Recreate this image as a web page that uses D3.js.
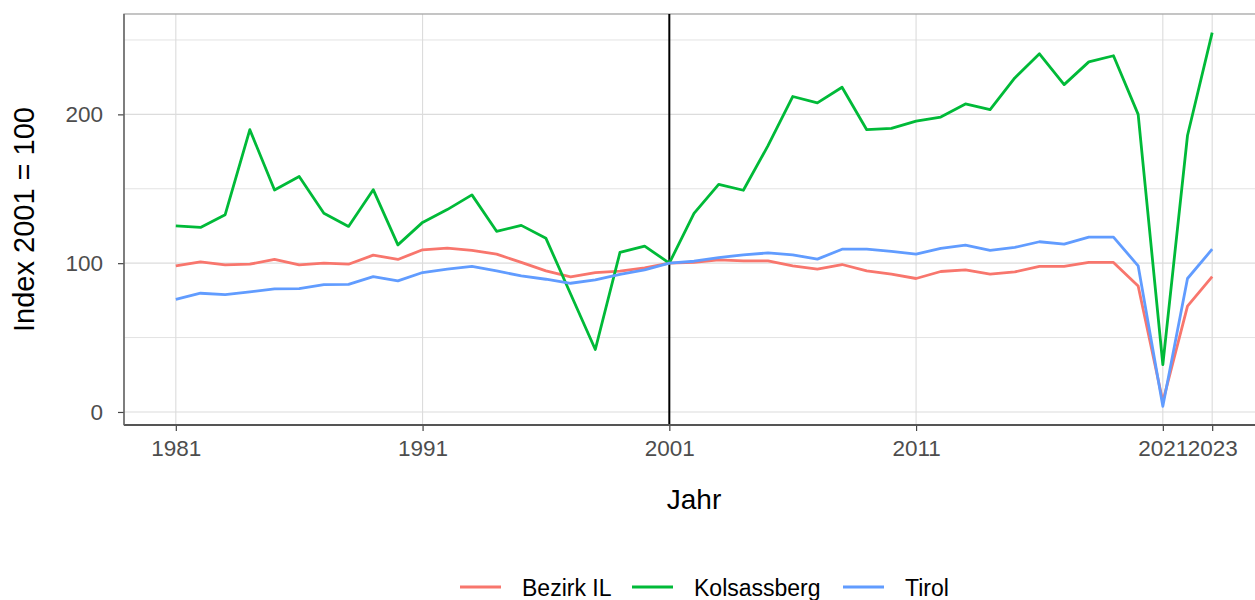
<!DOCTYPE html>
<html><head><meta charset="utf-8">
<script src="https://cdn.jsdelivr.net/npm/d3@7"></script>
<style>body{margin:0;background:#fff}svg{display:block;font-family:"Liberation Sans",Arial,sans-serif}</style>
</head><body>
<svg id="c" width="1255" height="600"></svg>
<script>
const years = [1981,1982,1983,1984,1985,1986,1987,1988,1989,1990,1991,1992,1993,1994,1995,1996,1997,1998,1999,2000,2001,2002,2003,2004,2005,2006,2007,2008,2009,2010,2011,2012,2013,2014,2015,2016,2017,2018,2019,2020,2021,2022,2023];
const bezirkIL = [98.2,100.9,98.9,99.3,102.5,98.9,100,99.3,105.4,102.5,109,110.1,108.6,106.1,100.5,94.8,90.8,93.7,94.6,96.8,100,100.5,102.2,101.6,101.6,98.2,96,99.1,94.8,92.6,89.7,94.4,95.5,92.6,94.1,97.8,97.8,100.5,100.5,84.7,7,71.2,91];
const kolsassberg = [125,124,132.6,189.7,149.2,158.2,133.5,124.7,149.4,112.3,127.4,136,145.9,121.4,125.4,116.7,79.3,42,107.2,111.5,100,133.5,153,149,179,212,207.7,218.2,189.7,190.6,195.5,198.2,207,203.2,224.5,240.7,220,235.3,239.4,200,31.9,185.8,254.9];
const tirol = [75.7,79.8,78.9,80.7,82.7,82.9,85.6,85.8,91,88.1,93.7,96,97.8,94.8,91.4,89.2,86.5,88.7,92.4,95.5,100,101.3,103.8,105.6,106.9,105.6,102.7,109.4,109.4,107.9,106.1,109.9,112.1,108.6,110.6,114.4,112.8,117.5,117.5,98.2,3.8,89.7,109.4];
const seriesNames = ["Bezirk IL","Kolsassberg","Tirol"];
const seriesColors = ["#F8766D","#00BA38","#619CFF"];
const xTicks = [1981,1991,2001,2011,2021,2023];
const yTicks = [0,100,200];
const yMinor = [50,150,250];
const refYear = 2001;

const series = [bezirkIL, kolsassberg, tirol];
const svg = d3.select("#c");
const L = 124, R = 1264, T = 14, B = 425;

const xMin = d3.min(years), xMax = d3.max(years);
const xPad = (xMax - xMin) * 0.05;
const x = d3.scaleLinear().domain([xMin - xPad, xMax + xPad]).range([L, R]);
const all = series.flat();
const yLo = d3.min(all), yHi = d3.max(all), yPad = (yHi - yLo) * 0.05;
const y = d3.scaleLinear().domain([yLo - yPad, yHi + yPad]).range([B, T]);

// gridlines
const g = svg.append("g");
g.selectAll("line.ymin").data(yMinor).join("line")
  .attr("x1", L).attr("x2", R).attr("y1", d => y(d)).attr("y2", d => y(d))
  .attr("stroke", "#e3e3e3").attr("stroke-width", 1);
g.selectAll("line.ymaj").data(yTicks).join("line")
  .attr("x1", L).attr("x2", R).attr("y1", d => y(d)).attr("y2", d => y(d))
  .attr("stroke", "#dcdcdc").attr("stroke-width", 1.1);
g.selectAll("line.xmaj").data(xTicks).join("line")
  .attr("x1", d => x(d)).attr("x2", d => x(d)).attr("y1", T).attr("y2", B)
  .attr("stroke", "#dcdcdc").attr("stroke-width", 1.1);

// top/right border
svg.append("rect").attr("x", L).attr("y", T).attr("width", R - L).attr("height", B - T)
  .attr("fill", "none").attr("stroke", "#a6a6a6").attr("stroke-width", 1.3);

// reference line
svg.append("line").attr("x1", x(refYear)).attr("x2", x(refYear)).attr("y1", T).attr("y2", B)
  .attr("stroke", "#000").attr("stroke-width", 2);

// data lines
const line = d3.line().x((d, i) => x(years[i])).y(d => y(d));
series.forEach((s, k) => {
  svg.append("path").datum(s).attr("d", line).attr("fill", "none")
    .attr("stroke", seriesColors[k]).attr("stroke-width", 2.8)
    .attr("stroke-linejoin", "round").attr("stroke-linecap", "butt");
});

// axes
const xAxis = d3.axisBottom(x).tickValues(xTicks).tickFormat(d3.format("d")).tickSize(6).tickPadding(9);
const xa = svg.append("g").attr("transform", `translate(0,${B})`).call(xAxis);
xa.select(".domain").remove();
xa.selectAll(".tick line").attr("stroke", "#444").attr("stroke-width", 1.2);
xa.selectAll(".tick text").attr("fill", "#4d4d4d").style("font-size", "22.5px").attr("font-family", "Liberation Sans, Arial, sans-serif");

const yAxis = d3.axisLeft(y).tickValues(yTicks).tickSize(6).tickPadding(15);
const ya = svg.append("g").attr("transform", `translate(${L},0)`).call(yAxis);
ya.select(".domain").remove();
ya.selectAll(".tick line").attr("stroke", "#444").attr("stroke-width", 1.2);
ya.selectAll(".tick text").attr("fill", "#4d4d4d").style("font-size", "22.5px").attr("font-family", "Liberation Sans, Arial, sans-serif");

// axis lines
svg.append("line").attr("x1", L).attr("x2", R).attr("y1", B).attr("y2", B).attr("stroke", "#555").attr("stroke-width", 1.8);
svg.append("line").attr("x1", L).attr("x2", L).attr("y1", T).attr("y2", B).attr("stroke", "#666").attr("stroke-width", 1.5);

// titles
svg.append("text").attr("x", (L + R) / 2).attr("y", 509).attr("text-anchor", "middle")
  .style("font-size", "28px").attr("fill", "#000").text("Jahr");
svg.append("text").attr("transform", `translate(34,${(T + B) / 2}) rotate(-90)`).attr("text-anchor", "middle")
  .style("font-size", "29px").attr("fill", "#000").text("Index 2001 = 100");

// legend
const legX = [460, 632, 843];
const lg = svg.append("g");
seriesNames.forEach((n, k) => {
  lg.append("line").attr("x1", legX[k]).attr("x2", legX[k] + 41).attr("y1", 587).attr("y2", 587)
    .attr("stroke", seriesColors[k]).attr("stroke-width", 2.8);
  lg.append("text").attr("x", legX[k] + 62).attr("y", 596).style("font-size", "23px").attr("fill", "#000").text(n);
});
</script>
</body></html>
